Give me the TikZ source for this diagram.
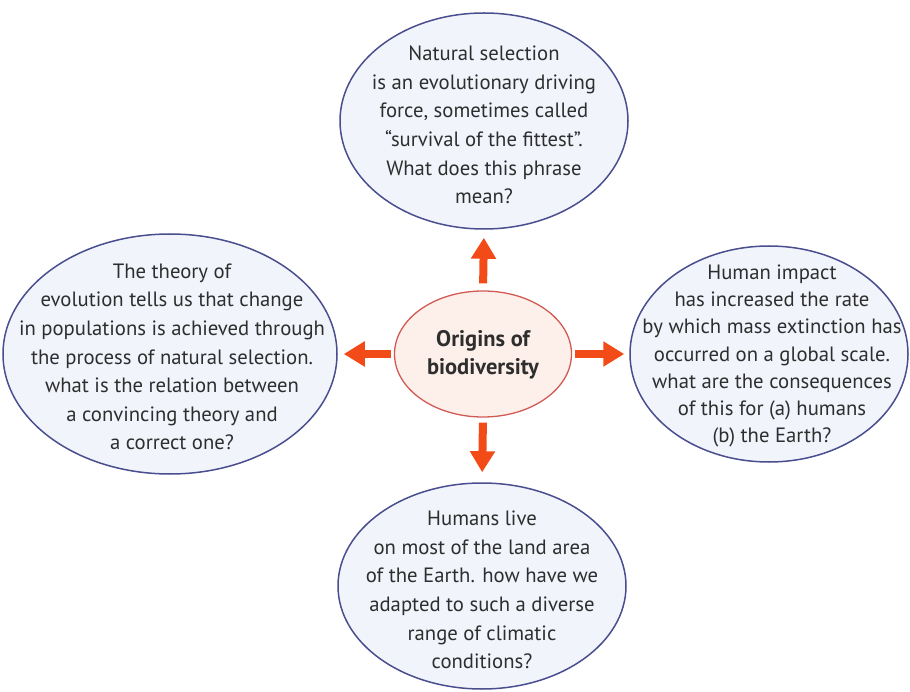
\documentclass[tikz,border=0pt]{standalone}
\usepackage{fontspec}
\setmainfont{PT Sans}
\usetikzlibrary{shapes.geometric,arrows.meta}
\definecolor{rim}{HTML}{4A4E8E}
\definecolor{bubblefill}{HTML}{F1F5FB}
\definecolor{hubfill}{HTML}{FDEFEA}
\definecolor{hubrim}{HTML}{D25A55}
\definecolor{pointer}{HTML}{F24B17}
\definecolor{ink}{HTML}{2E2E2E}
\begin{document}
\begin{tikzpicture}[x=1pt,y=-1pt,
  bubble/.style={ellipse, draw=rim, line width=1.5pt, fill=bubblefill, inner sep=0pt},
  hub/.style={ellipse, draw=hubrim, line width=1.3pt, fill=hubfill, inner sep=0pt},
  words/.style={align=center, text=ink, inner sep=0pt, font=\fontsize{20.7}{28.6}\selectfont},
  hubwords/.style={align=center, text=ink, inner sep=0pt, font=\fontsize{22.5}{28}\selectfont\bfseries},
  pointerline/.style={draw=pointer, line width=8pt, -{Triangle[width=24pt,length=21pt]}}
]
\useasboundingbox (0,0) rectangle (910,692);

% the central idea
\node[hub, minimum width=177pt, minimum height=126pt] (hub) at (483,354) {};
\node[hubwords] (hubtext) at (483,355) {Origins of\\biodiversity};

% the four questions around it
\node[bubble, minimum width=288pt, minimum height=216pt] (north) at (484,121) {};
\node[words] (northtext) at (484,125) {Natural selection\\is an evolutionary driving\\force, sometimes called\\“survival of the fittest”.\\What does this phrase\\mean?};

\node[bubble, minimum width=334pt, minimum height=240pt] (west) at (170,354) {};
\node[words] (westtext) at (172,357) {The theory of\\evolution tells us that change\\in populations is achieved through\\the process of natural selection.\\what is the relation between\\a convincing theory and\\a correct one?};

\node[bubble, minimum width=278pt, minimum height=216pt] (east) at (769,354) {};
\node[words, font=\fontsize{20.7}{27.2}\selectfont] (easttext) at (772,356) {Human impact\\has increased the rate\\by which mass extinction has\\occurred on a global scale.\\what are the consequences\\of this for (a) humans\\(b) the Earth?};

\node[bubble, minimum width=288pt, minimum height=206pt] (south) at (482,586) {};
\node[words] (southtext) at (482,590) {Humans live\\on most of the land area\\of the Earth. how have we\\adapted to such a diverse\\range of climatic\\conditions?};

% arrows out of the centre
\draw[pointerline, shorten <=7pt, shorten >=8pt] (hub.north) -- (north.south);
\draw[pointerline, shorten <=3pt, shorten >=6pt] (hub.west) -- (west.east);
\draw[pointerline, shorten <=3pt, shorten >=5pt] (hub.east) -- (east.west);
\draw[pointerline, shorten <=5pt, shorten >=10pt] (hub.south) -- (south.north);
\end{tikzpicture}
\end{document}
